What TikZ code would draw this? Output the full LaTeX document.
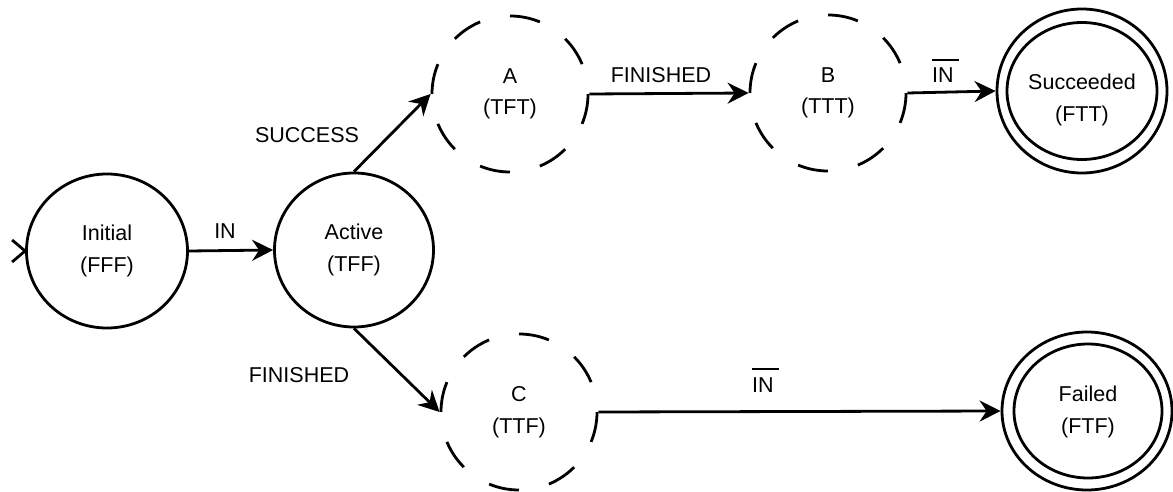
\documentclass[tikz,border=0pt]{standalone}
\usepackage{fontspec}
\setmainfont{Liberation Sans}
\usetikzlibrary{arrows.meta,shapes.geometric}

% negated signal: a bar set over the name
\newcommand{\negsig}[1]{\vbox{\hrule height 1.8pt\kern 7pt\hbox{#1\kern 5pt}}}
\newcommand{\statefont}{\fontsize{21.5}{31.5}\selectfont}

\tikzset{
  stroke/.style={line width=2.8pt},
  solidstate/.style={stroke, draw, ellipse, inner sep=0pt, align=center, font=\statefont},
  dashstate/.style={stroke, draw, circle, inner sep=0pt, minimum size=156pt,
    align=center, font=\statefont,
    dash pattern=on 30.63pt off 30.63pt, dash phase=30.63pt},
  finalring/.style={stroke, draw, ellipse, inner sep=0pt},
  statetext/.style={inner sep=0pt, align=center, font=\statefont},
  lbl/.style={inner sep=0pt, font=\fontsize{21.5}{26}\selectfont},
  edge/.style={stroke, -{Stealth[length=21pt, width=21pt, inset=7pt]}},
}

\begin{document}
\begin{tikzpicture}[x=1pt, y=-1pt]
  \useasboundingbox (0,0) rectangle (1173,492);

  % states
  \node[solidstate, minimum width=161pt, minimum height=154pt] (init) at (107,251) {Initial\\(FFF)};
  \node[solidstate, minimum width=159pt, minimum height=154pt] (act) at (354,250) {Active\\(TFF)};
  \node[dashstate] (a) at (510,94) {A\\(TFT)};
  \node[dashstate] (b) at (828,93) {B\\(TTT)};
  \node[dashstate] (c) at (519,412) {C\\(TTF)};

  % accepting states: two rings and their text
  \node[finalring, minimum width=170pt, minimum height=164pt] (succ) at (1082,91) {};
  \node[finalring, minimum width=150pt, minimum height=137pt] (succin) at (succ) {};
  \node[statetext] (succtxt) at (1082,100) {Succeeded\\(FTT)};

  \node[finalring, minimum width=170pt, minimum height=158pt] (fail) at (1087,411) {};
  \node[finalring, minimum width=148pt, minimum height=134pt] (failin) at (1088,411) {};
  \node[statetext] (failtxt) at (1088,412) {Failed\\(FTF)};

  % start marker
  \draw[stroke] ([shift={(-13,-11)}]init.west) -- (init.west) -- ([shift={(-13,11)}]init.west);

  % transitions
  \draw[edge] (init.east) -- (act.west);
  \draw[edge] (act.north) -- (a.west);
  \draw[edge] (act.south) -- (c.west);
  \draw[edge] (a.east) -- (b.west);
  \draw[edge] (b.east) -- (succ.west);
  \draw[edge] (c.east) -- (fail.west);

  % transition labels
  \node[lbl, anchor=base] (lin) at (225,238) {IN};
  \node[lbl, anchor=base] (lsucc) at (307,143) {SUCCESS};
  \node[lbl, anchor=base] (lfin1) at (661,83) {FINISHED};
  \node[lbl, anchor=base west] (lnot1) at (932,83) {\negsig{IN}};
  \node[lbl, anchor=base] (lfin2) at (299,382) {FINISHED};
  \node[lbl, anchor=base west] (lnot2) at (752,392) {\negsig{IN}};
\end{tikzpicture}
\end{document}
